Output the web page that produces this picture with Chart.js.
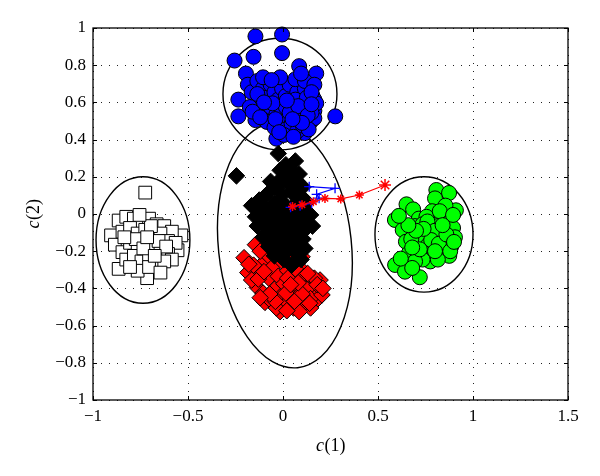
<!DOCTYPE html>
<html><head><meta charset="utf-8">
<script src="https://cdn.jsdelivr.net/npm/chart.js@4"></script>
<style>html,body{margin:0;padding:0;background:#fff}</style>
</head><body>
<canvas id="c" width="600" height="476"></canvas>
<script>
// ---- Data ----
const xTicks = [-1, -0.5, 0, 0.5, 1, 1.5];
const yTicks = [-1, -0.8, -0.6, -0.4, -0.2, 0, 0.2, 0.4, 0.6, 0.8, 1];

const blueX = [-0.145,-0.005,-0.255,-0.155,-0.005,0.085,0.175,0.275,-0.235,-0.235,-0.195,-0.035,0.115,-0.145,
 -0.185,-0.165,-0.135,-0.105,-0.085,-0.065,-0.045,-0.025,-0.005,0.015,0.035,0.055,0.075,0.095,0.115,0.135,0.155,0.165,0.165,0.155,0.175,
 -0.125,-0.095,-0.065,-0.035,-0.005,0.025,0.055,0.085,0.115,0.145,0.165,0.150,
 -0.085,-0.045,-0.015,0.015,0.045,0.075,0.105,0.135,0.005,0.055,
 -0.105,-0.015,0.065,0.115,0.165,0.095,0.015,0.065,-0.055,0.125,0.035,-0.135,0.150,-0.175,
 -0.04,0.08,-0.10,0.13,-0.16,0.02,0.10,-0.06,0.05,-0.12,0.15,-0.02];
const blueY = [0.955,0.965,0.825,0.845,0.865,0.795,0.755,0.525,0.615,0.525,0.755,0.405,0.435,0.505,
 0.695,0.655,0.715,0.675,0.625,0.695,0.655,0.615,0.675,0.635,0.695,0.595,0.655,0.615,0.675,0.575,0.635,0.555,0.615,0.575,0.595,
 0.595,0.555,0.575,0.535,0.565,0.525,0.555,0.515,0.545,0.495,0.515,0.545,
 0.495,0.465,0.495,0.455,0.485,0.445,0.475,0.455,0.425,0.415,
 0.735,0.735,0.725,0.715,0.695,0.755,0.575,0.615,0.595,0.625,0.545,0.645,0.655,0.575,
 0.51,0.58,0.60,0.53,0.55,0.61,0.49,0.72,0.51,0.52,0.59,0.44];

const blackX = [-0.025,0.065,-0.245,0.045,0.085,-0.005,0.025,0.075,0.105,-0.035,-0.075,-0.005,0.045,0.095,-0.125,-0.165,-0.095,-0.045,0.015,0.065,0.115,0.145,-0.145,-0.105,-0.055,-0.015,0.035,0.085,0.125,-0.135,-0.085,-0.035,0.015,0.065,0.105,0.155,-0.105,-0.055,-0.005,0.045,0.085,-0.075,-0.025,0.025,0.065,0.005,0.045,-0.045,0.095,0.015,-0.015,0.035,-0.065,
 0.035,0.055,-0.025,0.075,-0.085,0.005,0.055,-0.035,0.105,-0.115,-0.015,0.095,-0.065,0.035,0.115,-0.095,0.125];
const blackY = [0.325,0.285,0.205,0.235,0.215,0.195,0.165,0.175,0.145,0.145,0.115,0.105,0.115,0.095,0.075,0.045,0.035,0.055,0.045,0.055,0.025,-0.005,-0.015,-0.025,-0.005,-0.015,-0.025,-0.015,-0.045,-0.065,-0.075,-0.055,-0.085,-0.065,-0.095,-0.065,-0.125,-0.115,-0.135,-0.125,-0.155,-0.175,-0.185,-0.195,-0.205,-0.245,-0.275,-0.225,-0.245,0.265,0.075,0.015,0.175,
 0.205,0.145,0.035,0.005,-0.035,-0.045,-0.105,-0.095,-0.135,0.015,0.235,0.055,-0.145,-0.165,-0.185,0.095,0.065];

const redX = [-0.145,-0.205,-0.185,-0.135,-0.095,0.175,0.145,-0.085,0.045,0.195,-0.015,-0.115,-0.055,-0.005,0.075,0.105,-0.075,-0.025,0.025,0.065,0.115,0.155,-0.105,-0.045,0.005,0.045,0.085,0.135,0.185,-0.065,-0.015,0.035,0.075,0.105,0.055,0.005,0.125,0.165,0.145,0.205,0.015,0.095,-0.165,-0.155,0.085,-0.035,0.025,0.065,
 -0.12,-0.18,0.0,0.10,0.04,-0.13,-0.10,0.13,0.18,0.21,0.10,0.06,0.14,-0.04,0.02,-0.07,-0.12,0.08,0.04];
const redY = [-0.165,-0.235,-0.315,-0.395,-0.475,-0.465,-0.505,-0.235,-0.205,-0.355,-0.525,-0.275,-0.285,-0.255,-0.265,-0.305,-0.345,-0.335,-0.305,-0.345,-0.365,-0.395,-0.425,-0.405,-0.375,-0.415,-0.395,-0.435,-0.415,-0.465,-0.445,-0.465,-0.445,-0.485,-0.505,-0.495,-0.405,-0.345,-0.455,-0.435,-0.425,-0.335,-0.355,-0.275,-0.525,-0.505,-0.345,-0.295,
 -0.20,-0.27,-0.22,-0.23,-0.26,-0.35,-0.31,-0.32,-0.38,-0.40,-0.43,-0.47,-0.48,-0.47,-0.52,-0.43,-0.45,-0.37,-0.38];

const squareX = [-0.725,-0.865,-0.715,-0.905,-0.535,-0.555,-0.865,-0.825,-0.785,-0.745,-0.705,-0.665,-0.625,-0.585,-0.885,-0.845,-0.805,-0.765,-0.725,-0.685,-0.645,-0.605,-0.565,-0.845,-0.805,-0.765,-0.725,-0.685,-0.645,-0.605,-0.585,-0.825,-0.785,-0.745,-0.705,-0.665,-0.625,-0.765,-0.705,-0.645,-0.805,-0.775,-0.735,-0.695,-0.655,-0.615,-0.835,-0.755,-0.675,-0.715];
const squareY = [0.115,-0.295,-0.345,-0.115,-0.115,-0.195,-0.035,-0.015,-0.025,-0.045,-0.025,-0.055,-0.065,-0.095,-0.165,-0.095,-0.075,-0.105,-0.085,-0.115,-0.105,-0.145,-0.155,-0.205,-0.155,-0.175,-0.145,-0.175,-0.195,-0.215,-0.245,-0.245,-0.225,-0.255,-0.225,-0.275,-0.255,-0.305,-0.285,-0.315,-0.285,-0.135,-0.185,-0.065,-0.145,-0.175,-0.125,-0.005,-0.225,-0.125];

const greenX = [0.807,0.874,0.800,0.910,0.650,0.589,0.630,0.647,0.663,0.590,0.642,0.720,0.785,0.685,0.715,0.755,0.835,0.875,0.695,0.735,0.775,0.815,0.855,0.895,0.705,0.745,0.785,0.825,0.865,0.905,0.725,0.765,0.805,0.845,0.885,0.715,0.755,0.795,0.835,0.875,0.775,0.815,0.735,0.855,0.825,0.675,0.695,0.895,
 0.76,0.80,0.78,0.82,0.74,0.86,0.88,0.72,0.80,0.84,0.70,0.90,0.68,0.66,0.61,0.68,0.62];
const greenY = [0.129,0.113,0.084,0.020,0.052,-0.032,-0.086,-0.149,-0.210,-0.274,-0.310,-0.340,0.015,0.025,-0.025,-0.015,-0.025,-0.045,-0.065,-0.055,-0.075,-0.065,-0.095,-0.075,-0.115,-0.105,-0.125,-0.115,-0.145,-0.125,-0.155,-0.165,-0.175,-0.185,-0.175,-0.205,-0.215,-0.225,-0.215,-0.225,-0.255,-0.245,-0.245,0.045,0.015,-0.135,-0.255,-0.005,
 -0.04,-0.09,-0.14,-0.16,-0.08,-0.11,-0.20,-0.19,-0.20,-0.06,-0.09,-0.15,-0.18,-0.06,-0.01,-0.29,-0.24];

const trajBlueX = [0.138, 0.274, 0.177, 0.19, 0.151, 0.09, 0.04];
const trajBlueY = [0.147, 0.138, 0.106, 0.085, 0.058, 0.045, 0.036];
const trajRedX = [0.537, 0.402, 0.304, 0.221, 0.16, 0.10, 0.05];
const trajRedY = [0.156, 0.102, 0.081, 0.084, 0.066, 0.05, 0.04];

// ellipses: center x, center y, semi-axis x, semi-axis y (data units), rotation (deg)
const ellCX = [-0.016, 0.01, -0.737, 0.742];
const ellCY = [0.645, -0.17, -0.14, -0.11];
const ellRX = [0.30, 0.35, 0.247, 0.258];
const ellRY = [0.30, 0.66, 0.34, 0.31];
const ellRot = [0, -6, 0, 0];

const zip = (xs, ys) => xs.map((x, i) => ({x, y: ys[i]}));
const fmt = v => { const r = Math.round(v * 10) / 10; return (r < 0 ? '\u2212' : '') + String(Math.abs(r)); };
const FONT = '"Liberation Serif", "DejaVu Serif", serif';

const decor = {
  id: 'decor',
  beforeDatasetsDraw(chart) {
    const {ctx, chartArea: a, scales: {x, y}} = chart;
    ctx.save();
    ctx.strokeStyle = '#222';
    ctx.lineWidth = 1;
    ctx.setLineDash([1, 7]);
    xTicks.forEach(v => {
      const px = Math.round(x.getPixelForValue(v)) + 0.5;
      ctx.beginPath(); ctx.moveTo(px, a.bottom); ctx.lineTo(px, a.top); ctx.stroke();
    });
    yTicks.forEach(v => {
      const py = Math.round(y.getPixelForValue(v)) + 0.5;
      ctx.beginPath(); ctx.moveTo(a.left, py); ctx.lineTo(a.right, py); ctx.stroke();
    });
    ctx.setLineDash([]);
    ctx.strokeStyle = '#000';
    ctx.lineWidth = 1.4;
    ellCX.forEach((cx, i) => {
      const px = x.getPixelForValue(cx), py = y.getPixelForValue(ellCY[i]);
      const rx = Math.abs(x.getPixelForValue(cx + ellRX[i]) - px);
      const ry = Math.abs(y.getPixelForValue(ellCY[i] + ellRY[i]) - py);
      ctx.beginPath();
      ctx.ellipse(px, py, rx, ry, ellRot[i] * Math.PI / 180, 0, Math.PI * 2);
      ctx.stroke();
    });
    ctx.restore();
  },
  afterDatasetsDraw(chart) {
    const {ctx, chartArea: a, scales: {x, y}} = chart;
    ctx.save();
    ctx.strokeStyle = '#000';
    ctx.lineWidth = 1.3;
    ctx.strokeRect(a.left, a.top, a.right - a.left, a.bottom - a.top);
    ctx.lineWidth = 1;
    const t = 4;
    xTicks.forEach(v => {
      const px = Math.round(x.getPixelForValue(v)) + 0.5;
      ctx.beginPath(); ctx.moveTo(px, a.bottom); ctx.lineTo(px, a.bottom - t);
      ctx.moveTo(px, a.top); ctx.lineTo(px, a.top + t); ctx.stroke();
    });
    yTicks.forEach(v => {
      const py = Math.round(y.getPixelForValue(v)) + 0.5;
      ctx.beginPath(); ctx.moveTo(a.left, py); ctx.lineTo(a.left + t, py);
      ctx.moveTo(a.right, py); ctx.lineTo(a.right - t, py); ctx.stroke();
    });
    const drawTitle = (cx, cy, rot, num) => {
      ctx.save();
      ctx.translate(cx, cy);
      ctx.rotate(rot);
      ctx.fillStyle = '#000';
      ctx.textBaseline = 'middle';
      ctx.textAlign = 'left';
      const fi = 'italic 18px ' + FONT, fn = '18px ' + FONT;
      ctx.font = fi; const w1 = ctx.measureText('c').width;
      ctx.font = fn; const w2 = ctx.measureText(num).width;
      const start = -(w1 + w2) / 2;
      ctx.font = fi; ctx.fillText('c', start, 0);
      ctx.font = fn; ctx.fillText(num, start + w1 + 0.5, 0);
      ctx.restore();
    };
    drawTitle((a.left + a.right) / 2, 446, 0, '(1)');
    drawTitle(34, (a.top + a.bottom) / 2, -Math.PI / 2, '(2)');
    ctx.restore();
  }
};

new Chart(document.getElementById('c'), {
  type: 'scatter',
  data: {
    datasets: [
      { label: 'traj red', data: zip(trajRedX, trajRedY), showLine: true, borderColor: '#ff0000', borderWidth: 1.2,
        pointStyle: 'star', pointRadius: c => c.dataIndex === 0 ? 6 : 4.5, pointBorderColor: '#ff0000', pointBorderWidth: 1.5,
        pointBackgroundColor: '#ff0000', order: 0, clip: false },
      { label: 'traj blue', data: zip(trajBlueX, trajBlueY), showLine: true, borderColor: '#0000ff', borderWidth: 1.2,
        pointStyle: 'cross', pointRadius: 5, pointBorderColor: '#0000ff', pointBorderWidth: 1.3, order: 1, clip: false },
      { label: 'blue', data: zip(blueX, blueY), pointStyle: 'circle', pointRadius: 7.5, backgroundColor: '#0000ff',
        borderColor: '#000', borderWidth: 1, order: 2, clip: false },
      { label: 'green', data: zip(greenX, greenY), pointStyle: 'circle', pointRadius: 7.5, backgroundColor: '#00ff00',
        borderColor: '#000', borderWidth: 1, order: 3, clip: false },
      { label: 'black', data: zip(blackX, blackY), pointStyle: 'rectRot', pointRadius: 8.3, backgroundColor: '#000',
        borderColor: '#000', borderWidth: 1, order: 4, clip: false },
      { label: 'red', data: zip(redX, redY), pointStyle: 'rectRot', pointRadius: 8.3, backgroundColor: '#ff0000',
        borderColor: '#000', borderWidth: 1, order: 5, clip: false },
      { label: 'white', data: zip(squareX, squareY), pointStyle: 'rect', pointRadius: 9, backgroundColor: '#fff',
        borderColor: '#000', borderWidth: 1, order: 6, clip: false }
    ]
  },
  options: {
    responsive: false,
    animation: false,
    layout: { padding: { left: 0, top: 28, right: 32, bottom: 0 } },
    plugins: { legend: { display: false }, tooltip: { enabled: false } },
    scales: {
      x: {
        type: 'linear', min: -1, max: 1.5,
        afterFit: s => { s.height = 76; },
        afterBuildTicks: s => { s.ticks = xTicks.map(v => ({value: v})); },
        grid: { display: false, drawTicks: false },
        border: { display: false },
        ticks: { padding: 6, color: '#000', font: { family: FONT, size: 17 }, callback: v => fmt(v), maxRotation: 0 }
      },
      y: {
        type: 'linear', min: -1, max: 1,
        afterFit: s => { s.width = 93; },
        afterBuildTicks: s => { s.ticks = yTicks.map(v => ({value: v})); },
        grid: { display: false, drawTicks: false },
        border: { display: false },
        ticks: { padding: 7, color: '#000', font: { family: FONT, size: 17 }, callback: v => fmt(v) }
      }
    }
  },
  plugins: [decor]
});
</script>
</body></html>
